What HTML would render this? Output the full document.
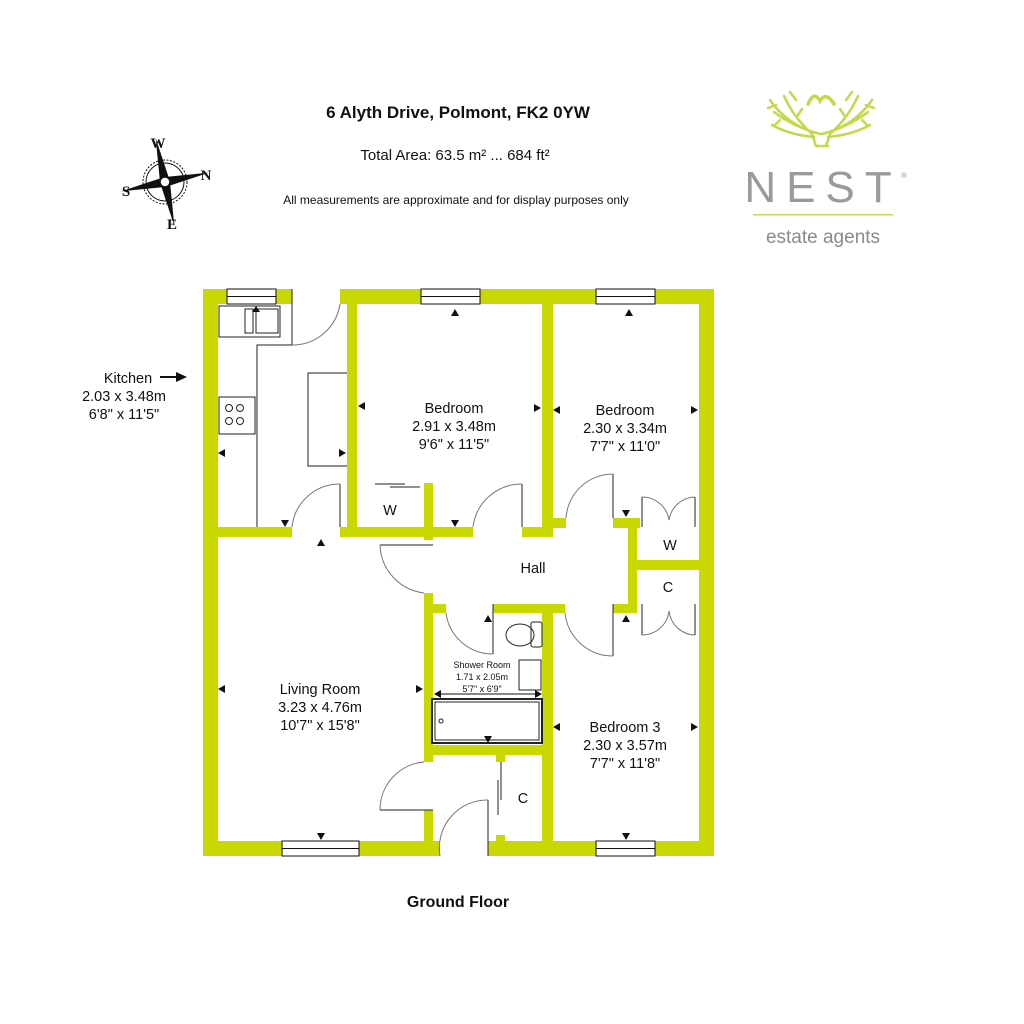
<!DOCTYPE html>
<html><head><meta charset="utf-8"><style>
html,body{margin:0;padding:0;background:#fff}
svg{display:block}
text{font-family:"Liberation Sans",sans-serif;fill:#111}
</style></head><body>
<svg width="1024" height="1024" viewBox="0 0 1024 1024" xmlns="http://www.w3.org/2000/svg">
<rect width="1024" height="1024" fill="#fff"/>
<text x="458" y="118" font-size="17" font-weight="bold" text-anchor="middle">6 Alyth Drive, Polmont, FK2 0YW</text>
<text x="455" y="160" font-size="15" text-anchor="middle">Total Area: 63.5 m² ... 684 ft²</text>
<text x="456" y="204" font-size="12" text-anchor="middle">All measurements are approximate and for display purposes only</text>
<text x="458" y="907" font-size="16" font-weight="bold" text-anchor="middle">Ground Floor</text>

<g transform="translate(165,182)">
<circle r="22" fill="none" stroke="#111" stroke-width="1" stroke-dasharray="2,1.5"/>
<circle r="19" fill="none" stroke="#111" stroke-width="1"/>
<g transform="rotate(-12)">
<polygon points="0,-45 5,0 0,45 -5,0" fill="#111"/>
<polygon points="-45,0 0,-5 45,0 0,5" fill="#111"/>
</g>
<circle r="5" fill="#fff" stroke="#111" stroke-width="1.5"/>
</g>
<text x="158" y="148" font-size="15" font-weight="bold" text-anchor="middle" style="font-family:'Liberation Serif',serif">W</text>
<text x="126" y="196" font-size="15" font-weight="bold" text-anchor="middle" style="font-family:'Liberation Serif',serif">S</text>
<text x="206" y="180" font-size="15" font-weight="bold" text-anchor="middle" style="font-family:'Liberation Serif',serif">N</text>
<text x="172" y="229" font-size="15" font-weight="bold" text-anchor="middle" style="font-family:'Liberation Serif',serif">E</text>

<!-- logo -->
<g fill="none" stroke="#c4d84a" stroke-width="2.5" stroke-linecap="round">
<path d="M808,104 q6,-14 12,-3 q6,-10 14,3" stroke-width="3.5"/>
<path d="M770,100 q15,22 42,32 M774,112 q20,15 46,22 M784,96 q10,22 28,38 M772,125 q18,10 42,12 M790,92 l6,8 M768,108 l8,-3 M780,120 l-6,6 M798,115 l4,-6"/>
<path d="M872,100 q-15,22 -42,32 M868,112 q-20,15 -46,22 M858,96 q-10,22 -28,38 M870,125 q-18,10 -42,12 M852,92 l-6,8 M874,108 l-8,-3 M862,120 l6,6 M844,115 l-4,-6"/>
<path d="M812,134 l4,12 M830,134 l-4,12 M816,146 l12,0"/>
</g>
<text x="823" y="202" font-size="44" text-anchor="middle" style="fill:#9a9a9a;letter-spacing:10px">NEST</text>
<text x="901" y="178" font-size="8" style="fill:#9a9a9a">®</text>
<rect x="753" y="214" width="140" height="1.5" fill="#c8d84a"/>
<text x="823" y="243" font-size="19" text-anchor="middle" style="fill:#8a8a8a">estate agents</text>

<g fill="#c8d800">
<rect x="203" y="289" width="15" height="567"/>
<rect x="203" y="289" width="89" height="15"/>
<rect x="340" y="289" width="374" height="15"/>
<rect x="699" y="289" width="15" height="567"/>
<rect x="203" y="841" width="237" height="15"/>
<rect x="488" y="841" width="226" height="15"/>
<rect x="347" y="304" width="10" height="233"/>
<rect x="542" y="304" width="11" height="233"/>
<rect x="203" y="527" width="89" height="10"/>
<rect x="340" y="527" width="133" height="10"/>
<rect x="522" y="527" width="31" height="10"/>
<rect x="553" y="518" width="13" height="10"/>
<rect x="613" y="518" width="27" height="10"/>
<rect x="628" y="518" width="9" height="95"/>
<rect x="628" y="560" width="71" height="10"/>
<rect x="424" y="483" width="9" height="57"/>
<rect x="424" y="593" width="9" height="169"/>
<rect x="424" y="810" width="9" height="46"/>
<rect x="424" y="604" width="22" height="9"/>
<rect x="493" y="604" width="72" height="9"/>
<rect x="542" y="604" width="11" height="252"/>
<rect x="613" y="604" width="24" height="9"/>
<rect x="424" y="745" width="129" height="10"/>
<rect x="496" y="755" width="9" height="7"/>
<rect x="496" y="835" width="9" height="7"/>
</g>
<g fill="#fff" stroke="#111" stroke-width="1">
<rect x="227" y="289" width="49" height="15"/><line x1="227" y1="296.5" x2="276" y2="296.5"/>
<rect x="421" y="289" width="59" height="15"/><line x1="421" y1="296.5" x2="480" y2="296.5"/>
<rect x="596" y="289" width="59" height="15"/><line x1="596" y1="296.5" x2="655" y2="296.5"/>
<rect x="282" y="841" width="77" height="15"/><line x1="282" y1="848.5" x2="359" y2="848.5"/>
<rect x="596" y="841" width="59" height="15"/><line x1="596" y1="848.5" x2="655" y2="848.5"/>
</g>
<g fill="none" stroke="#222" stroke-width="1">
<polyline points="292,289 292,345 257,345 257,527"/>
<rect x="219" y="306" width="61" height="31"/>
<rect x="245" y="309" width="8" height="24"/><rect x="256" y="309" width="22" height="24"/>
<rect x="219" y="397" width="36" height="37"/>
<circle cx="229" cy="408" r="3.5"/><circle cx="240" cy="408" r="3.5"/>
<circle cx="229" cy="421" r="3.5"/><circle cx="240" cy="421" r="3.5"/>
<polyline points="347,373 308,373 308,466 347,466"/>
<path d="M292,345 A48,48 0 0 0 340,304" stroke="#777"/>
<line x1="340" y1="484" x2="340" y2="527"/>
<path d="M292,527 A48,48 0 0 1 340,484" stroke="#777"/>
<line x1="522" y1="484" x2="522" y2="527"/>
<path d="M473,527 A49,49 0 0 1 522,484" stroke="#777"/>
<line x1="613" y1="474" x2="613" y2="518"/>
<path d="M566,518 A47,47 0 0 1 613,474" stroke="#777"/>
<line x1="642" y1="497" x2="642" y2="527"/><line x1="695" y1="497" x2="695" y2="527"/>
<path d="M642,497 A27,27 0 0 1 669,520 A27,27 0 0 1 695,497" stroke="#777"/>
<line x1="642" y1="604" x2="642" y2="635"/><line x1="695" y1="604" x2="695" y2="635"/>
<path d="M642,635 A27,27 0 0 0 669,611 A27,27 0 0 0 695,635" stroke="#777"/>
<line x1="613" y1="604" x2="613" y2="656"/>
<path d="M565,613 A48,48 0 0 0 613,656" stroke="#777"/>
<line x1="380" y1="545" x2="433" y2="545"/>
<path d="M380,545 A50,50 0 0 0 424,593" stroke="#777"/>
<line x1="493" y1="604" x2="493" y2="654"/>
<path d="M446,613 A47,47 0 0 0 493,654" stroke="#777"/>
<path d="M380,810 A48,48 0 0 1 424,762" stroke="#777"/>
<line x1="380" y1="810" x2="433" y2="810"/>
<line x1="488" y1="800" x2="488" y2="856"/>
<path d="M440,856 A48,48 0 0 1 488,800" stroke="#777"/>
<line x1="501" y1="762" x2="501" y2="800"/><line x1="498" y1="780" x2="498" y2="815"/>
<line x1="375" y1="484" x2="405" y2="484"/><line x1="390" y1="487" x2="420" y2="487"/>
<rect x="432" y="699" width="110" height="44" stroke-width="2"/>
<rect x="435" y="702" width="104" height="38"/>
<circle cx="441" cy="721" r="2"/>
<rect x="519" y="660" width="22" height="30"/>
<ellipse cx="520" cy="635" rx="14" ry="11"/>
<rect x="531" y="622" width="11" height="25" rx="2"/>
</g>
<g fill="#111">
<polygon points="252,312 260,312 256,306"/>
<polygon points="451,316 459,316 455,309"/>
<polygon points="625,316 633,316 629,309"/>
<polygon points="218,453 225,449 225,457"/>
<polygon points="346,453 339,449 339,457"/>
<polygon points="358,406 365,402 365,410"/>
<polygon points="541,408 534,404 534,412"/>
<polygon points="553,410 560,406 560,414"/>
<polygon points="698,410 691,406 691,414"/>
<polygon points="281,520 289,520 285,527"/>
<polygon points="317,546 325,546 321,539"/>
<polygon points="451,520 459,520 455,527"/>
<polygon points="622,510 630,510 626,517"/>
<polygon points="218,689 225,685 225,693"/>
<polygon points="423,689 416,685 416,693"/>
<polygon points="484,622 492,622 488,615"/>
<polygon points="622,622 630,622 626,615"/>
<polygon points="434,694 441,690 441,698"/>
<polygon points="542,694 535,690 535,698"/>
<polygon points="484,736 492,736 488,743"/>
<polygon points="553,727 560,723 560,731"/>
<polygon points="698,727 691,723 691,731"/>
<polygon points="317,833 325,833 321,840"/>
<polygon points="622,833 630,833 626,840"/>
</g>
<line x1="437" y1="694" x2="539" y2="694" stroke="#111" stroke-width="1"/>
<g font-size="14.5" text-anchor="middle">
<text x="128" y="383">Kitchen</text>
<text x="124" y="401">2.03 x 3.48m</text>
<text x="124" y="419">6'8" x 11'5"</text>
<text x="454" y="413">Bedroom</text>
<text x="454" y="431">2.91 x 3.48m</text>
<text x="454" y="449">9'6" x 11'5"</text>
<text x="625" y="415">Bedroom</text>
<text x="625" y="433">2.30 x 3.34m</text>
<text x="625" y="451">7'7" x 11'0"</text>
<text x="533" y="573">Hall</text>
<text x="390" y="515">W</text>
<text x="670" y="550">W</text>
<text x="668" y="592">C</text>
<text x="523" y="803">C</text>
<text x="320" y="694">Living Room</text>
<text x="320" y="712">3.23 x 4.76m</text>
<text x="320" y="730">10'7" x 15'8"</text>
<text x="625" y="732">Bedroom 3</text>
<text x="625" y="750">2.30 x 3.57m</text>
<text x="625" y="768">7'7" x 11'8"</text>
</g>
<g font-size="9" text-anchor="middle">
<text x="482" y="668">Shower Room</text>
<text x="482" y="680">1.71 x 2.05m</text>
<text x="482" y="692">5'7" x 6'9"</text>
</g>
<line x1="160" y1="377" x2="178" y2="377" stroke="#111" stroke-width="2"/>
<polygon points="176,372 187,377 176,382" fill="#111"/>
</svg>
</body></html>
